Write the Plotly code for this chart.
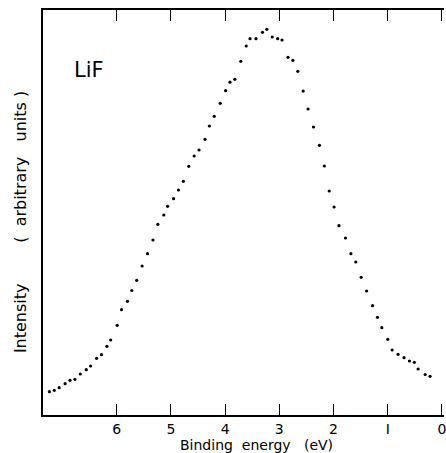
import plotly.graph_objects as go

# Binding energy (eV) and intensity (arbitrary units)
binding_energy = [7.24, 7.15, 7.06, 6.95, 6.86, 6.77, 6.67, 6.56, 6.48, 6.37,
                  6.28, 6.18, 6.11, 5.99, 5.91, 5.80, 5.72, 5.63, 5.53, 5.43,
                  5.33, 5.24, 5.13, 5.06, 4.95, 4.86, 4.77, 4.67, 4.57, 4.48,
                  4.37, 4.29, 4.20, 4.09, 3.99, 3.91, 3.82, 3.71, 3.61, 3.54,
                  3.43, 3.31, 3.23, 3.13, 3.03, 2.95, 2.84, 2.75, 2.66, 2.56,
                  2.47, 2.37, 2.26, 2.17, 2.08, 1.99, 1.90, 1.78, 1.68, 1.59,
                  1.49, 1.39, 1.28, 1.19, 1.11, 1.00, 0.92, 0.81, 0.70, 0.60,
                  0.51, 0.44, 0.31, 0.22]
intensity = [23.3, 24.7, 27.3, 31.3, 34.7, 35.7, 41.0, 45.3, 49.0, 56.7,
             60.3, 68.7, 75.0, 89.7, 105.3, 113.7, 124.5, 134.7, 149.0, 161.3,
             175.0, 190.7, 200.0, 208.7, 216.3, 225.0, 233.7, 248.7, 259.0, 265.0,
             275.7, 289.0, 298.7, 311.7, 324.3, 332.8, 335.7, 353.7, 369.0, 376.3,
             376.3, 382.7, 385.7, 378.0, 376.3, 375.0, 357.7, 354.7, 343.7, 323.9,
             306.0, 288.0, 269.7, 249.0, 224.0, 208.0, 189.3, 177.0, 161.3, 153.0,
             137.7, 124.0, 109.3, 97.7, 87.3, 75.7, 65.0, 60.7, 57.3, 54.0,
             52.7, 46.0, 40.5, 38.7]
x_ticks = [6, 5, 4, 3, 2, 1, 0]
x_tick_text = ["6", "5", "4", "3", "2", "I", "0"]

FONT = "DejaVu Sans"

fig = go.Figure()
fig.add_trace(go.Scatter(
    x=binding_energy, y=intensity, mode="markers",
    marker=dict(color="black", size=3.2, symbol="circle"),
    showlegend=False, hoverinfo="skip",
))

fig.update_layout(
    width=446, height=453,
    margin=dict(l=43, r=0, t=10, b=38),
    paper_bgcolor="white", plot_bgcolor="white",
    font=dict(family=FONT, color="black"),
    xaxis=dict(
        range=[7.358, -0.037], autorange=False,
        tickvals=x_ticks, ticktext=x_tick_text,
        ticks="inside", ticklen=11, tickwidth=1.2, tickcolor="black",
        showline=True, linecolor="black", linewidth=1.5, mirror="ticks",
        showgrid=False, zeroline=False, ticklabeloverflow="allow",
        tickfont=dict(size=14, family=FONT, color="black"),
    ),
    yaxis=dict(
        range=[0, 405], autorange=False,
        showticklabels=False, ticks="",
        showline=True, linecolor="black", linewidth=1.5, mirror=False,
        showgrid=False, zeroline=False,
    ),
    annotations=[
        dict(text="Binding  energy   (eV)", xref="paper", yref="paper",
             x=(258 - 43) / 403, y=-30 / 405, xanchor="center", yanchor="middle",
             showarrow=False, font=dict(size=14, family=FONT, color="black")),
        dict(text="Intensity        (  arbitrary   units )", xref="paper", yref="paper",
             x=-23 / 403, y=(415 - 222) / 405, xanchor="center", yanchor="middle",
             textangle=-90, showarrow=False,
             font=dict(size=16, family=FONT, color="black")),
        dict(text="LiF", xref="paper", yref="paper",
             x=(89 - 43) / 403, y=(415 - 70) / 405, xanchor="center", yanchor="middle",
             showarrow=False, font=dict(size=21, family=FONT, color="black")),
    ],
)

fig.write_html("out.html", config={"displayModeBar": False},
               post_script="document.body.style.margin='0';")
